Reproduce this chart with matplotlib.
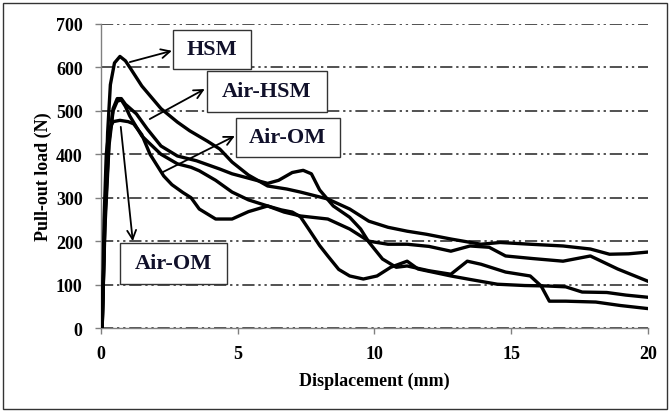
import matplotlib.pyplot as plt
from matplotlib.patches import Rectangle

# HSM curve (ends highest)
hsm_x = [0.05, 0.15, 0.25, 0.35, 0.5, 0.7, 0.9, 1.1, 1.5, 2.2, 2.8, 3.25, 3.9, 4.35,
         4.8, 5.4, 6.1, 6.8, 7.3, 8.3, 9.1, 9.8, 10.5, 11.2, 11.9, 12.8, 13.9, 14.6,
         15.7, 16.9, 17.9, 18.6, 19.3, 20.0]
hsm_y = [0, 250, 450, 560, 610, 625, 615, 596, 557, 505, 474, 454, 430, 412,
         382, 352, 327, 320, 313, 297, 274, 246, 232, 223, 216, 205, 193, 197,
         193, 189, 182, 170, 171, 175]

# Air-HSM curve (peak ~530, bump at 7.4 mm, ends lowest)
airhsm_x = [0.05, 0.15, 0.3, 0.45, 0.6, 0.75, 0.9, 1.3, 1.7, 2.2, 2.8, 3.5, 4.35, 4.8,
            5.4, 6.1, 6.5, 7.0, 7.4, 7.7, 8.0, 8.5, 9.1, 9.5, 9.8, 10.3, 10.8, 11.2,
            12.0, 12.8, 13.4, 13.9, 14.8, 15.7, 16.1, 16.4, 17.0, 18.1, 19.0, 20.0]
airhsm_y = [0, 250, 430, 505, 528, 528, 515, 493, 458, 419, 396, 385, 366, 355,
            345, 333, 340, 358, 363, 355, 318, 281, 255, 228, 198, 159, 140, 143,
            132, 124, 154, 147, 129, 120, 97, 62, 62, 60, 52, 45]

# Air-OM curve (peak ~525, deep dip near 9.6 mm)
airom1_x = [0.05, 0.15, 0.3, 0.45, 0.6, 0.75, 0.9, 1.06, 1.5, 2.2, 2.8, 3.3, 3.6, 4.2,
            4.8, 5.4, 6.1, 6.6, 7.0, 7.3, 7.6, 8.0, 8.3, 8.7, 9.1, 9.6, 10.1, 10.6,
            11.2, 11.6, 12.8, 13.5, 14.5, 15.5, 16.3, 17.0, 17.6, 18.5, 19.2, 20.0]
airom1_y = [0, 230, 420, 500, 522, 525, 510, 488, 442, 400, 378, 370, 362, 340,
            313, 295, 281, 272, 267, 256, 228, 190, 166, 135, 120, 113, 120, 140,
            154, 136, 120, 112, 101, 98, 97, 95, 83, 82, 76, 71]

# Air-OM curve (flat peak ~478)
airom2_x = [0.05, 0.12, 0.2, 0.3, 0.45, 0.7, 1.0, 1.2, 1.5, 1.8, 2.3, 2.6, 3.0, 3.3,
            3.6, 4.2, 4.8, 5.4, 6.1, 6.7, 7.3, 8.3, 9.1, 9.8, 10.5, 11.2, 12.0, 12.8,
            13.5, 14.2, 14.8, 15.8, 16.9, 17.9, 18.9, 20.0]
airom2_y = [0, 250, 400, 455, 475, 478, 475, 470, 445, 400, 350, 330, 312, 300,
            274, 251, 251, 268, 281, 267, 258, 251, 228, 200, 193, 193, 188, 177,
            189, 186, 166, 160, 154, 166, 136, 108]

# labels: text, box centre (x, y), box size, arrow tail on curve, arrow head at box
label_text = ["HSM", "Air-HSM", "Air-OM", "Air-OM"]
label_pos = [(4.06, 641), (6.07, 545), (6.84, 439), (2.67, 149)]
label_size = [(2.85, 90), (4.4, 94), (3.8, 90), (3.9, 94)]
arrow_tail = [(1.06, 612), (1.79, 481), (2.27, 359), (0.73, 463)]
arrow_head = [(2.6, 638), (3.8, 550), (4.9, 442), (1.17, 200)]

plt.rcParams['font.family'] = 'Liberation Serif'
plt.rcParams['font.weight'] = 'bold'

fig = plt.figure(figsize=(6.72, 4.14), dpi=100)
ax = fig.add_axes([0.150, 0.205, 0.814, 0.735])

for xs, ys in [(hsm_x, hsm_y), (airhsm_x, airhsm_y), (airom1_x, airom1_y), (airom2_x, airom2_y)]:
    ax.plot(xs, ys, color='black', lw=2.4, solid_joinstyle='round', zorder=3)

ax.set_xlim(0, 20)
ax.set_ylim(0, 700)
ax.set_xticks([0, 5, 10, 15, 20])
ax.set_yticks(range(0, 701, 100))
ax.yaxis.grid(True, color='#222222', lw=1.1, linestyle=(0, (8, 2.5, 1.5, 2.5, 1.5, 2.5)))
ax.set_axisbelow(True)

for s in ['top', 'right']:
    ax.spines[s].set_visible(False)
for s in ['left', 'bottom']:
    ax.spines[s].set_color('#808080')
    ax.spines[s].set_linewidth(1.0)
ax.tick_params(direction='out', length=4, width=1, color='#808080', labelsize=13)
ax.tick_params(axis='x', pad=8)
ax.tick_params(axis='y', pad=9)

ax.set_xlabel('Displacement (mm)', fontsize=13, fontweight='bold', labelpad=7)
ax.set_ylabel('Pull-out load (N)', fontsize=13, fontweight='bold', labelpad=3)

for text, (cx, cy), (w, h), tail, head in zip(label_text, label_pos, label_size, arrow_tail, arrow_head):
    ax.annotate('', xy=head, xytext=tail,
                arrowprops=dict(arrowstyle='->', color='black', lw=1.3,
                                mutation_scale=16, shrinkA=0, shrinkB=0), zorder=4)
    ax.add_patch(Rectangle((cx - w / 2, cy - h / 2), w, h, facecolor='white',
                           edgecolor='#333333', lw=1.0, zorder=5, clip_on=False))
    ax.text(cx, cy, text, ha='center', va='center', fontsize=16, fontweight='bold',
            color='#10102a', zorder=6)

# outer frame around the whole figure
fig.patches.append(Rectangle((0.005, 0.01), 0.988, 0.98, transform=fig.transFigure,
                             fill=False, edgecolor='#333333', lw=1.0))

fig.savefig('out.png', dpi=100)
